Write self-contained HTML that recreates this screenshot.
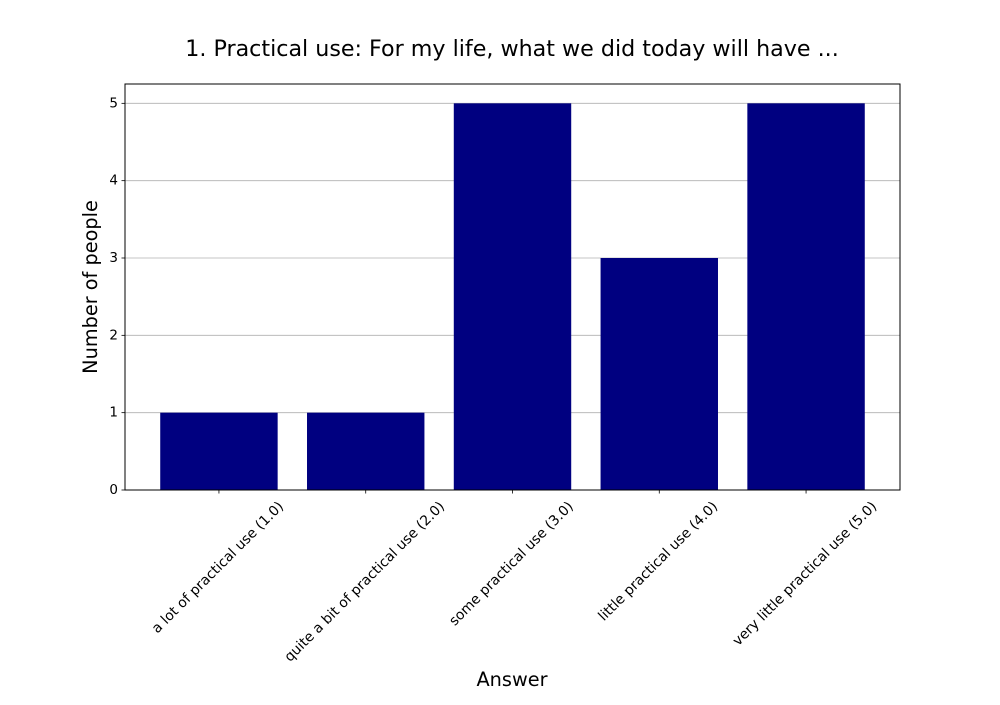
<!DOCTYPE html>
<html><head><meta charset="utf-8"><style>
body{margin:0;background:#fff}
svg{font-family:"DejaVu Sans","Liberation Sans",sans-serif}
</style></head><body>
<svg id="chart" width="1000" height="700" viewBox="0 0 1000 700">
<rect width="1000" height="700" fill="#fff"/>
<text x="512" y="56" text-anchor="middle" font-size="22.2">1. Practical use: For my life, what we did today will have ...</text>
<g id="grid"></g>
<g id="bars"></g>
<rect x="125" y="84" width="775" height="406" fill="none" stroke="#000" stroke-width="1"/>
<g id="yticks"></g>
<g id="xticks"></g>
<text transform="translate(97,287) rotate(-90)" text-anchor="middle" font-size="19.3">Number of people</text>
<text x="512" y="686" text-anchor="middle" font-size="19.3">Answer</text>
</svg>
<script>
const categories = ["a lot of practical use (1.0)","quite a bit of practical use (2.0)","some practical use (3.0)","little practical use (4.0)","very little practical use (5.0)"];
const values = [1,1,5,3,5];
const yTicks = [0,1,2,3,4,5];
const NS="http://www.w3.org/2000/svg";
const L=125,R=900,T=84,B=490;
const xMin=-0.64,xMax=4.64,yMin=0,yMax=5.25;
const xs=v=>L+(v-xMin)/(xMax-xMin)*(R-L);
const ys=v=>B-(v-yMin)/(yMax-yMin)*(B-T);
function mk(tag,attrs,parent){const e=document.createElementNS(NS,tag);for(const k in attrs)e.setAttribute(k,attrs[k]);parent.appendChild(e);return e;}
const grid=document.getElementById('grid'),bars=document.getElementById('bars'),yt=document.getElementById('yticks'),xt=document.getElementById('xticks');
yTicks.forEach(t=>{
  const g=mk('line',{x1:L,x2:R,y1:ys(t),y2:ys(t),stroke:'#b0b0b0','stroke-width':0.8},grid);
  
  
  const tk=mk('line',{x1:L-3.5,x2:L,y1:ys(t),y2:ys(t),stroke:'#000','stroke-width':0.8},yt);
  
  
  const lb=mk('text',{x:L-7,y:ys(t),'text-anchor':'end','dominant-baseline':'central','font-size':13.5},yt);
  lb.textContent=t;
  
  
});
values.forEach((v,i)=>{
  const w=(xs(0.4)-xs(-0.4));
  const r=mk('rect',{x:xs(i)-w/2,y:ys(v),width:w,height:ys(0)-ys(v),fill:'#000080'},bars);
  
  
  const tk=mk('line',{x1:xs(i),x2:xs(i),y1:B,y2:B+3.5,stroke:'#000','stroke-width':0.8},xt);
  
  
  const lb=mk('text',{'text-anchor':'middle','dominant-baseline':'central','font-size':13.9},xt);
  lb.textContent=categories[i];
  
  
  const len=lb.getComputedTextLength();
  const h=(len+15)*0.7071;
  lb.setAttribute('transform','translate('+(xs(i)-1)+','+(B+9+h/2)+') rotate(-45)');
});
</script>
</body></html>
